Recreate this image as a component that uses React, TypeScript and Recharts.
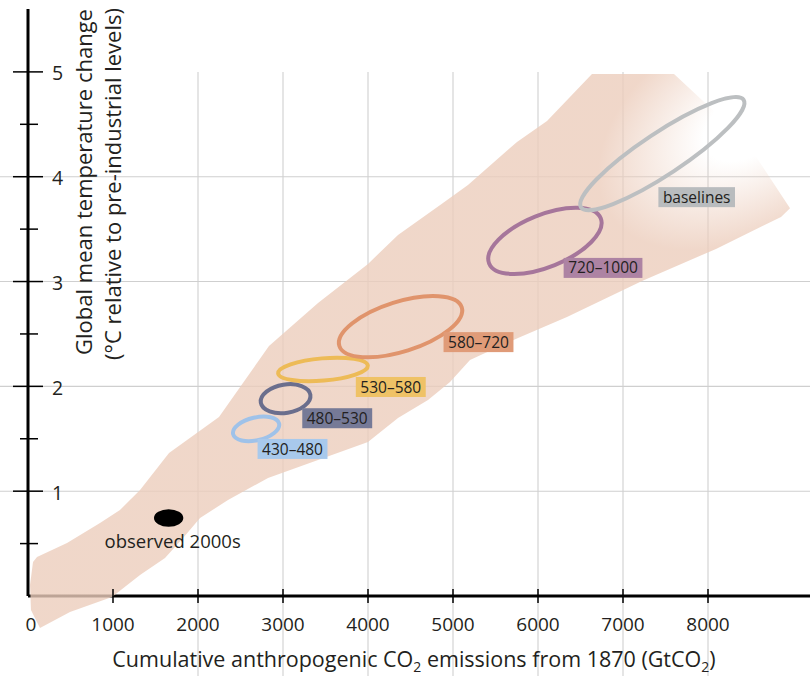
import React from 'react';
import { ScatterChart, Scatter, XAxis, YAxis, CartesianGrid } from 'recharts';

const CHART_W = 810;
const CHART_H = 676;
const X_MAX = 9200;
const Y_MAX = 5.6;
const FONT = '"Open Sans", "Noto Sans", sans-serif';
const INK = '#231f20';

const X_TICKS = [0, 1000, 2000, 3000, 4000, 5000, 6000, 7000, 8000];
const Y_TICKS = [0.5, 1, 1.5, 2, 2.5, 3, 3.5, 4, 4.5, 5];
const X_GRID = [2000, 3000, 4000, 5000, 6000, 7000, 8000];
const Y_GRID = [1, 2, 3, 4];

// outline of the model range, clockwise from the tip below the x axis
const PLUME = [
  { x: 141, y: -0.305 }, { x: 494, y: -0.153 }, { x: 988, y: -0.01 }, { x: 1318, y: 0.2 },
  { x: 1612, y: 0.363 }, { x: 1824, y: 0.553 }, { x: 2024, y: 0.744 }, { x: 2353, y: 0.916 },
  { x: 2824, y: 1.126 }, { x: 3412, y: 1.298 }, { x: 4000, y: 1.469 }, { x: 4353, y: 1.698 },
  { x: 4706, y: 1.87 }, { x: 4965, y: 2.042 }, { x: 5200, y: 2.252 }, { x: 5765, y: 2.462 },
  { x: 6341, y: 2.662 }, { x: 7224, y: 3.006 }, { x: 8094, y: 3.311 }, { x: 8859, y: 3.616 },
  { x: 8965, y: 3.7 }, { x: 8435, y: 4.35 }, { x: 7600, y: 4.981 }, { x: 6635, y: 4.981 },
  { x: 6106, y: 4.532 }, { x: 5753, y: 4.332 }, { x: 5176, y: 3.922 }, { x: 4882, y: 3.75 },
  { x: 4353, y: 3.445 }, { x: 4000, y: 3.168 }, { x: 3412, y: 2.796 }, { x: 2835, y: 2.385 },
  { x: 2247, y: 1.708 }, { x: 1659, y: 1.365 }, { x: 1318, y: 1.011 }, { x: 1082, y: 0.821 },
  { x: 847, y: 0.697 }, { x: 459, y: 0.506 }, { x: 106, y: 0.372 }, { x: 59, y: 0.324 },
  { x: 24, y: 0.105 }, { x: 35, y: -0.134 },
];

// each ellipse: both ends of the long axis, then one end of the short axis
const RING_430_480 = [{ x: 2413, y: 1.544 }, { x: 2954, y: 1.645 }, { x: 2714, y: 1.489 }];
const RING_480_530 = [{ x: 2739, y: 1.845 }, { x: 3322, y: 1.92 }, { x: 3056, y: 1.749 }];
const RING_530_580 = [{ x: 2943, y: 2.124 }, { x: 3998, y: 2.198 }, { x: 3482, y: 2.055 }];
const RING_580_720 = [{ x: 3663, y: 2.385 }, { x: 5103, y: 2.754 }, { x: 4472, y: 2.343 }];
const RING_720_1000 = [{ x: 5425, y: 3.173 }, { x: 6738, y: 3.604 }, { x: 6196, y: 3.157 }];
const RING_BASELINES = [{ x: 6506, y: 3.707 }, { x: 8419, y: 4.734 }, { x: 7599, y: 4.053 }];
const OBSERVED = [{ x: 1482, y: 0.744 }, { x: 1827, y: 0.744 }, { x: 1655, y: 0.661 }];

const LABELS = [
  { text: '430–480', x: 3112, y: 1.403 },
  { text: '480–530', x: 3638, y: 1.696 },
  { text: '530–580', x: 4268, y: 1.994 },
  { text: '580–720', x: 5300, y: 2.422 },
  { text: '720–1000', x: 6765, y: 3.13 },
  { text: 'baselines', x: 7867, y: 3.805 },
];
const OBSERVED_LABEL = [{ text: 'observed 2000s', x: 1702, y: 0.525 }];

const RINGS = [
  { key: '430–480', data: RING_430_480 },
  { key: '480–530', data: RING_480_530 },
  { key: '530–580', data: RING_530_580 },
  { key: '580–720', data: RING_580_720 },
  { key: '720–1000', data: RING_720_1000 },
  { key: 'baselines', data: RING_BASELINES },
];

const COLORS: Record<string, { ring: string; box: string }> = {
  '430–480': { ring: '#9fc2e9', box: '#a8c9ec' },
  '480–530': { ring: '#6a6e8d', box: '#767a97' },
  '530–580': { ring: '#edbb57', box: '#efc266' },
  '580–720': { ring: '#e0946c', box: '#e09b78' },
  '720–1000': { ring: '#a6769b', box: '#ad83a3' },
  baselines: { ring: '#bcbfc1', box: '#b9bcbe' },
};

let measureCtx: CanvasRenderingContext2D | null = null;
function textWidth(text: string, font: string) {
  if (!measureCtx) measureCtx = document.createElement('canvas').getContext('2d');
  if (!measureCtx) return text.length * 8;
  measureCtx.font = font;
  return measureCtx.measureText(text).width;
}

function Ring({ points, stroke, fill, strokeWidth }: any) {
  if (!points || points.length < 3) return <g />;
  const [a, b, m] = points;
  const cx = (a.x + b.x) / 2;
  const cy = (a.y + b.y) / 2;
  const rx = Math.hypot(b.x - a.x, b.y - a.y) / 2;
  const ry = Math.hypot(m.x - cx, m.y - cy);
  const angle = (Math.atan2(b.y - a.y, b.x - a.x) * 180) / Math.PI;
  return (
    <ellipse
      cx={cx}
      cy={cy}
      rx={rx}
      ry={ry}
      transform={`rotate(${angle} ${cx} ${cy})`}
      fill={fill}
      stroke={stroke}
      strokeWidth={strokeWidth}
    />
  );
}

// the plume fades out at its upper right end, like a soft brush
const renderPlume = (props: any) => {
  const pts = props.points || [];
  const d = pts.map((p: any, i: number) => `${i ? 'L' : 'M'}${p.x},${p.y}`).join(' ') + ' Z';
  const fx = 748;
  const fy = 124;
  return (
    <g>
      <defs>
        <radialGradient
          id="plumeFade"
          gradientUnits="userSpaceOnUse"
          cx={fx}
          cy={fy}
          r={120}
          gradientTransform={`translate(${fx} ${fy}) rotate(-33) scale(1.45 0.92) translate(${-fx} ${-fy})`}
        >
          <stop offset="0.28" stopColor="#eccdbc" stopOpacity={0} />
          <stop offset="0.95" stopColor="#eccdbc" stopOpacity={1} />
        </radialGradient>
      </defs>
      <path d={d} fill="url(#plumeFade)" fillOpacity={0.8} stroke="none" />
    </g>
  );
};

const hidden = () => <g />;

const LabelBox = (props: any) => {
  const { cx, cy, payload } = props;
  const w = textWidth(payload.text, `15.5px ${FONT}`) + 9;
  const h = 20;
  return (
    <g>
      <rect x={cx - w / 2} y={cy - h / 2} width={w} height={h} fill={COLORS[payload.text].box} />
      <text x={cx} y={cy} dy="0.36em" textAnchor="middle" fontSize={15.5} fontFamily={FONT} fill={INK}>
        {payload.text}
      </text>
    </g>
  );
};

const PlainLabel = (props: any) => {
  const { cx, cy, payload } = props;
  return (
    <text x={cx} y={cy} dy="0.36em" textAnchor="middle" fontSize={18.5} fontFamily={FONT} fill={INK}>
      {payload.text}
    </text>
  );
};

const XTick = (props: any) => {
  const { x, y, payload } = props;
  const v = payload.value;
  return (
    <g>
      {v !== 0 && <line x1={x} x2={x} y1={y - 7} y2={y + 7} stroke="#000" strokeWidth={1.5} />}
      <text x={v === 0 ? x + 3 : x} y={y + 35} textAnchor="middle" fontSize={19} fontFamily={FONT} fill={INK}>
        {v}
      </text>
    </g>
  );
};

const YTick = (props: any) => {
  const { x, y, payload } = props;
  const v = payload.value;
  const major = Number.isInteger(v);
  return (
    <g>
      <line
        x1={major ? x - 15 : x - 8}
        x2={major ? x + 15 : x + 10}
        y1={y}
        y2={y}
        stroke="#000"
        strokeWidth={1.5}
      />
      {major && (
        <text x={x + 24} y={y + 8.5} textAnchor="start" fontSize={19.5} fontFamily={FONT} fill={INK}>
          {v}
        </text>
      )}
    </g>
  );
};

const gridH = (p: any) => (
  <line key={`h-${p.index}`} x1={0} x2={p.x2} y1={p.y1} y2={p.y2} stroke="#cfcfcf" strokeWidth={1.1} />
);

const gridV = (p: any) => {
  const top = p.y1 + ((p.y2 - p.y1) * (Y_MAX - 5)) / Y_MAX;
  return <line key={`v-${p.index}`} x1={p.x1} x2={p.x2} y1={top} y2={CHART_H} stroke="#cfcfcf" strokeWidth={1.1} />;
};

const YTitle = (props: any) => {
  const vb = props.viewBox || { x: 0, y: 9 };
  const cy = vb.y + 173;
  const x1 = vb.x + 91.5;
  const x2 = vb.x + 121;
  return (
    <g fontFamily={FONT} fontSize={22} fill={INK}>
      <text x={x1} y={cy} textAnchor="middle" transform={`rotate(-90 ${x1} ${cy})`}>
        Global mean temperature change
      </text>
      <text x={x2} y={cy + 2} textAnchor="middle" transform={`rotate(-90 ${x2} ${cy + 2})`}>
        (°C relative to pre-industrial levels)
      </text>
    </g>
  );
};

const XTitle = (props: any) => {
  const vb = props.viewBox || { x: 28, y: 596 };
  return (
    <text x={vb.x + 386} y={vb.y + 70.5} textAnchor="middle" fontFamily={FONT} fontSize={21.5} fill={INK}>
      Cumulative anthropogenic CO
      <tspan fontSize={14} dy={5}>2</tspan>
      <tspan dy={-5}> emissions from 1870 (GtCO</tspan>
      <tspan fontSize={14} dy={5}>2</tspan>
      <tspan dy={-5}>)</tspan>
    </text>
  );
};

export default function App() {
  return (
    <div className="plume-wrap" style={{ position: 'absolute', left: 0, top: 0, background: '#fff' }}>
      <style>{'.plume-wrap g[clip-path]{clip-path:none !important}'}</style>
      <ScatterChart width={CHART_W} height={CHART_H} margin={{ top: 9, right: 0, bottom: 0, left: 0 }}>
        <CartesianGrid
          horizontalValues={Y_GRID}
          verticalValues={X_GRID}
          horizontal={gridH}
          vertical={gridV}
        />
        <XAxis
          type="number"
          dataKey="x"
          domain={[0, X_MAX]}
          allowDataOverflow
          ticks={X_TICKS}
          interval={0}
          height={80}
          tickSize={0}
          tickMargin={0}
          tickLine={false}
          axisLine={{ stroke: '#000', strokeWidth: 3 }}
          tick={XTick}
          label={{ content: XTitle }}
        />
        <YAxis
          type="number"
          dataKey="y"
          domain={[0, Y_MAX]}
          allowDataOverflow
          ticks={Y_TICKS}
          interval={0}
          width={28}
          tickSize={0}
          tickMargin={0}
          tickLine={false}
          axisLine={{ stroke: '#000', strokeWidth: 3 }}
          tick={YTick}
          label={{ content: YTitle }}
        />
        <Scatter data={PLUME} line={renderPlume} shape={hidden} isAnimationActive={false} />
        {RINGS.map((r) => (
          <Scatter
            key={r.key}
            data={r.data}
            line={(p: any) => <Ring points={p.points} stroke={COLORS[r.key].ring} fill="none" strokeWidth={4} />}
            shape={hidden}
            isAnimationActive={false}
          />
        ))}
        <Scatter
          data={OBSERVED}
          line={(p: any) => <Ring points={p.points} fill="#000" stroke="none" strokeWidth={0} />}
          shape={hidden}
          isAnimationActive={false}
        />
        <Scatter data={OBSERVED_LABEL} shape={PlainLabel} isAnimationActive={false} />
        <Scatter data={LABELS} shape={LabelBox} isAnimationActive={false} />
      </ScatterChart>
    </div>
  );
}
